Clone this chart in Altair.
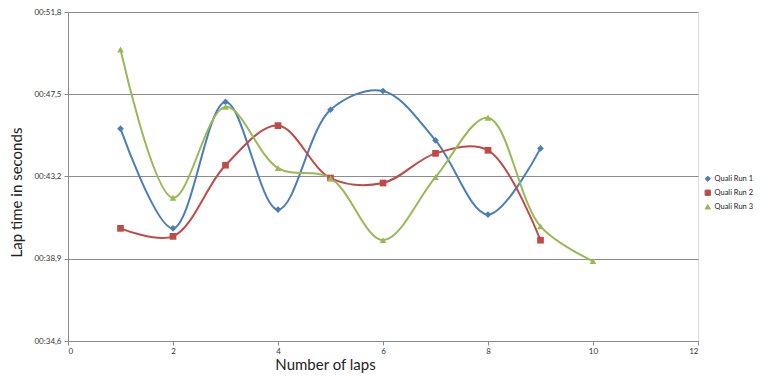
import altair as alt
import pandas as pd

series = ["Quali Run 1", "Quali Run 2", "Quali Run 3"]
colors = ["#4A7EBB", "#BE4B48", "#98B954"]
shapes = ["diamond", "square", "triangle-up"]

laps_run1 = [1, 2, 3, 4, 5, 6, 7, 8, 9]
run1 = [45.70, 40.49, 47.10, 41.47, 46.69, 47.67, 45.09, 41.21, 44.67]
laps_run2 = [1, 2, 3, 4, 5, 6, 7, 8, 9]
run2 = [40.49, 40.07, 43.79, 45.86, 43.12, 42.86, 44.41, 44.57, 39.87]
laps_run3 = [1, 2, 3, 4, 5, 6, 7, 8, 9, 10]
run3 = [49.84, 42.09, 46.84, 43.64, 43.12, 39.87, 43.17, 46.27, 40.59, 38.78]

y_ticks = [34.6, 38.9, 43.2, 47.5, 51.8]
x_ticks = [0, 2, 4, 6, 8, 10, 12]

rows = []
for name, laps, vals in zip(series, [laps_run1, laps_run2, laps_run3], [run1, run2, run3]):
    for l, v in zip(laps, vals):
        rows.append({"series": name, "lap": l, "time": v})
df = pd.DataFrame(rows)

FONT = "Lato"
GRID = "#8C8C8C"

legend = alt.Legend(
    title=None, orient="none", legendX=636, legendY=163,
    labelFont=FONT, labelFontSize=7.5, labelColor="#222222", labelOffset=3,
    symbolSize=28, rowPadding=4, symbolStrokeWidth=1,
)

x = alt.X("lap:Q", scale=alt.Scale(domain=[0, 12], nice=False, zero=False),
          axis=alt.Axis(values=x_ticks, title="Number of laps", grid=False,
                        domainColor=GRID, tickColor=GRID, tickSize=4,
                        labelFont=FONT, labelFontSize=8, labelColor="#333333", labelPadding=2,
                        titleFont=FONT, titleFontSize=15, titleFontWeight="normal",
                        titleColor="#222222", titleX=257, titleY=16))
y = alt.Y("time:Q", scale=alt.Scale(domain=[34.6, 51.8], nice=False, zero=False),
          axis=alt.Axis(values=y_ticks, title="Lap time in seconds", grid=True, gridColor=GRID,
                        gridWidth=1, domainColor=GRID, tickColor=GRID, tickSize=4,
                        labelExpr="'00:' + replace(format(datum.value, '.1f'), '.', ',')",
                        labelFont=FONT, labelFontSize=8, labelColor="#333333", labelPadding=3,
                        titleFont=FONT, titleFontSize=15, titleFontWeight="normal",
                        titleColor="#222222", titleX=-44, titleY=180))
color = alt.Color("series:N", scale=alt.Scale(domain=series, range=colors), legend=legend)
shape = alt.Shape("series:N", scale=alt.Scale(domain=series, range=shapes), legend=legend)

base = alt.Chart(df)
lines = base.mark_line(interpolate="catmull-rom", strokeWidth=2).encode(
    x=x, y=y, color=color, detail="series:N")
points = base.mark_point(filled=True, size=45, opacity=1).encode(
    x=x, y=y, color=color, shape=shape)

chart = alt.layer(lines, points).properties(
    width=630, height=329,
    autosize=alt.AutoSizeParams(type="none"),
    padding={"left": 60, "top": 4, "right": 62, "bottom": 32},
).configure_view(stroke=None).configure(background="white")

chart.save("out.html", embed_options={"renderer": "svg", "actions": False})
